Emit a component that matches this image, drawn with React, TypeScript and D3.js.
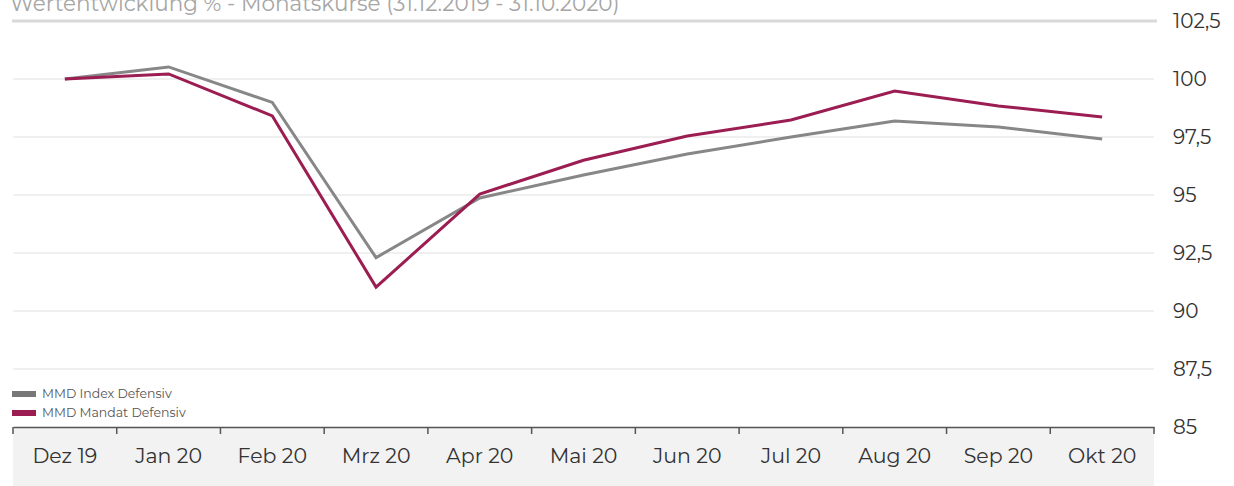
import { useRef, useEffect } from "react";
import * as d3 from "d3";

const months = ["Dez 19", "Jan 20", "Feb 20", "Mrz 20", "Apr 20", "Mai 20", "Jun 20", "Jul 20", "Aug 20", "Sep 20", "Okt 20"];
const indexDefensiv = [100, 100.52, 98.99, 92.3, 94.87, 95.86, 96.77, 97.5, 98.19, 97.93, 97.41];
const mandatDefensiv = [100, 100.22, 98.41, 91.03, 95.04, 96.5, 97.54, 98.23, 99.48, 98.84, 98.36];
const yTicks = [85, 87.5, 90, 92.5, 95, 97.5, 100, 102.5];

const seriesNames = ["MMD Index Defensiv", "MMD Mandat Defensiv"];
const seriesColors = ["#878787", "#9b1d52"];

export default function App() {
  const svgRef = useRef<SVGSVGElement>(null);

  useEffect(() => {
    if (!svgRef.current) return;
    const width = 1234;
    const height = 486;
    const svg = d3.select(svgRef.current);
    svg.selectAll("*").remove();
    svg.attr("width", width).attr("height", height);

    const font = "Montserrat, 'Open Sans', sans-serif";
    const left = 13;
    const right = 1154;
    const x = d3.scaleBand<string>().domain(months).range([left, right]);
    const y = d3.scaleLinear().domain([85, 102.5]).range([427, 21]);

    // x-axis background band
    svg.append("rect")
      .attr("x", left).attr("y", y(85))
      .attr("width", right - left).attr("height", height - y(85))
      .attr("fill", "#f2f2f2");

    // gridlines
    yTicks.slice(1).forEach((t) => {
      const top = t === 102.5;
      svg.append("line")
        .attr("x1", top ? left - 1 : left).attr("x2", top ? right + 3 : right)
        .attr("y1", y(t)).attr("y2", y(t))
        .attr("stroke", top ? "#d9d9d9" : "#f0f0f0")
        .attr("stroke-width", top ? 3 : 2);
    });

    // y labels on the right
    yTicks.forEach((t) => {
      svg.append("text")
        .attr("x", 1173).attr("y", y(t))
        .attr("dy", "0.35em")
        .attr("font-family", font).attr("font-size", 20)
        .attr("letter-spacing", "0")
        .attr("fill", "#333")
        .text(d3.format(".1f")(t).replace(".0", "").replace(".", ","));
    });

    // x axis
    const ax = svg.append("g")
      .attr("transform", `translate(0,${y(85)})`)
      .call(d3.axisBottom(x).tickSize(0).tickSizeOuter(0));
    ax.select(".domain").attr("stroke", "#555").attr("stroke-width", 1.5);
    ax.selectAll(".tick text")
      .attr("font-family", font).attr("font-size", 20.5)
      .attr("fill", "#333")
      .attr("dy", "0").attr("y", 36);

    const bounds = months.map((m) => x(m) ?? 0).concat([right]);
    svg.append("g").selectAll("line").data(bounds).join("line")
      .attr("x1", (d) => d).attr("x2", (d) => d)
      .attr("y1", y(85)).attr("y2", y(85) + 7)
      .attr("stroke", "#555").attr("stroke-width", 1.5);

    // lines
    const line = d3.line<number>()
      .x((_, i) => (x(months[i]) ?? 0) + x.bandwidth() / 2)
      .y((d) => y(d));
    [indexDefensiv, mandatDefensiv].forEach((s, i) => {
      svg.append("path")
        .attr("d", line(s))
        .attr("fill", "none")
        .attr("stroke", seriesColors[i])
        .attr("stroke-width", 3)
        .attr("stroke-linejoin", "miter");
    });

    // legend
    seriesNames.forEach((n, i) => {
      const ly = 394 + i * 19;
      svg.append("rect")
        .attr("x", 12).attr("y", ly - 3).attr("width", 24).attr("height", 6)
        .attr("fill", i === 0 ? "#777" : seriesColors[1]);
      svg.append("text")
        .attr("x", 42).attr("y", ly).attr("dy", "0.35em")
        .attr("font-family", font).attr("font-size", 12.5)
        .attr("fill", "#555")
        .text(n);
    });

    // title (partly above the top edge, as in the original export)
    svg.append("text")
      .attr("x", 10).attr("y", 11)
      .attr("font-family", font).attr("font-size", 21.5)
      .attr("fill", "#a6a6a6")
      .text("Wertentwicklung % - Monatskurse (31.12.2019 - 31.10.2020)");
  }, []);

  return <svg ref={svgRef} style={{ position: "absolute", left: 0, top: 0 }} />;
}
